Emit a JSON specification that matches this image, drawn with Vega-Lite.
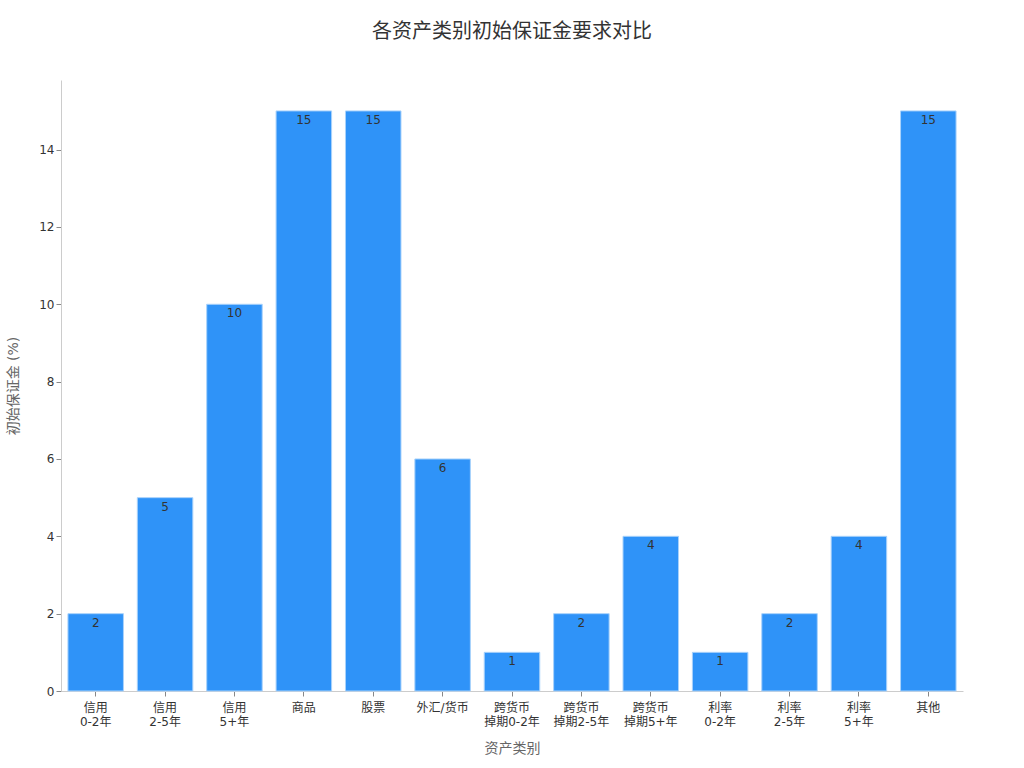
{
  "$schema": "https://vega.github.io/schema/vega-lite/v6.json",
  "autosize": "none",
  "width": 902,
  "height": 611,
  "padding": {"left": 61, "top": 80, "right": 61, "bottom": 77},
  "title": {
    "text": "各资产类别初始保证金要求对比",
    "fontSize": 20,
    "fontWeight": "normal",
    "color": "#333333",
    "font": "DejaVu Sans, Noto Sans CJK SC",
    "offset": 38
  },
  "config": {
    "font": "DejaVu Sans, Noto Sans CJK SC",
    "view": {"stroke": null},
    "axis": {
      "grid": false,
      "domainColor": "#cccccc",
      "tickColor": "#888888",
      "labelColor": "#333333",
      "labelFontSize": 12,
      "titleColor": "#666666",
      "titleFontSize": 14,
      "titleFontWeight": "normal"
    }
  },
  "data": {
    "values": [
      {"category": "信用\n0-2年", "margin": 2},
      {"category": "信用\n2-5年", "margin": 5},
      {"category": "信用\n5+年", "margin": 10},
      {"category": "商品", "margin": 15},
      {"category": "股票", "margin": 15},
      {"category": "外汇/货币", "margin": 6},
      {"category": "跨货币\n掉期0-2年", "margin": 1},
      {"category": "跨货币\n掉期2-5年", "margin": 2},
      {"category": "跨货币\n掉期5+年", "margin": 4},
      {"category": "利率\n0-2年", "margin": 1},
      {"category": "利率\n2-5年", "margin": 2},
      {"category": "利率\n5+年", "margin": 4},
      {"category": "其他", "margin": 15}
    ]
  },
  "encoding": {
    "x": {
      "field": "category",
      "type": "nominal",
      "sort": null,
      "title": "资产类别",
      "scale": {"paddingInner": 0.2, "paddingOuter": 0.1},
      "axis": {
        "labelAngle": 0,
        "labelExpr": "split(datum.label, '\\n')",
        "titlePadding": 14,
        "labelPadding": 6
      }
    },
    "y": {
      "field": "margin",
      "type": "quantitative",
      "title": "初始保证金 (%)",
      "scale": {"domain": [0, 15.8], "nice": false},
      "axis": {"values": [0, 2, 4, 6, 8, 10, 12, 14], "titlePadding": 18}
    }
  },
  "layer": [
    {
      "mark": {"type": "bar", "color": "#2f93f8", "stroke": "#a9d2fb", "strokeWidth": 1}
    },
    {
      "mark": {"type": "text", "baseline": "top", "dy": 4, "fontSize": 12, "color": "#333333"},
      "encoding": {"text": {"field": "margin", "type": "quantitative"}}
    }
  ]
}
